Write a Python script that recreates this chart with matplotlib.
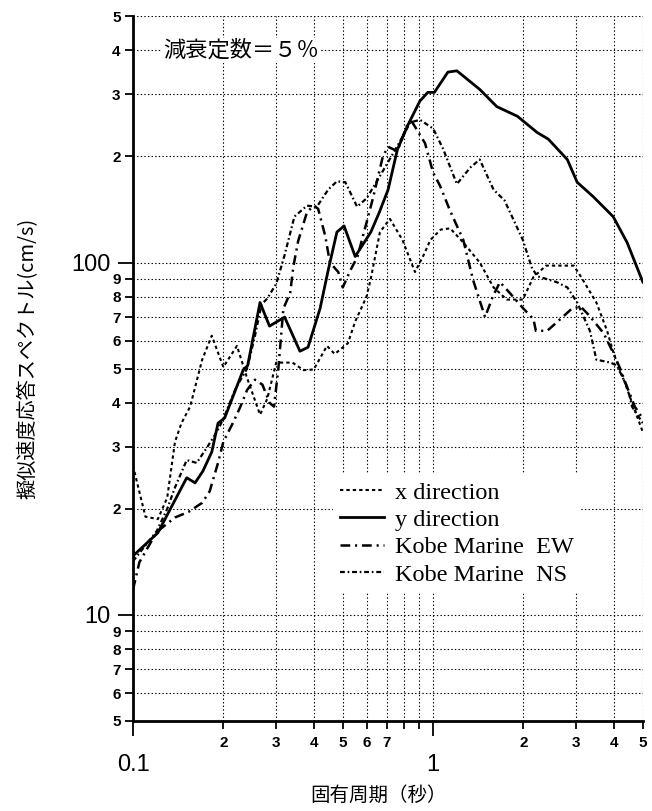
import matplotlib
matplotlib.use("Agg")
import matplotlib.pyplot as plt

plt.rcParams['lines.scale_dashes'] = False

# period (s) / pseudo velocity response (cm/s)
x_dir_T = [0.1, 0.11, 0.121, 0.13, 0.138, 0.145, 0.155, 0.17, 0.183, 0.2, 0.222, 0.24, 0.265,
           0.28, 0.30, 0.34, 0.37, 0.40, 0.443, 0.47, 0.52, 0.55, 0.60, 0.62, 0.665, 0.718, 0.79,
           0.87, 0.93, 0.98, 1.06, 1.14, 1.26, 1.43, 1.59, 1.76, 1.99, 2.16, 2.38, 2.94, 3.1,
           3.5, 3.8, 4.0, 4.3, 4.6, 5.0]
x_dir_v = [26.5, 19, 18.7, 21.5, 31, 35, 39, 53, 62, 50.5, 58, 47, 37,
           41, 52, 52, 49.5, 49.7, 58, 55, 59, 68, 80, 90, 122, 133, 116,
           94, 105, 116, 124, 125, 114, 100, 85, 78.5, 78.5, 91, 98, 98, 91.5,
           77, 64, 55, 47, 40, 33]

y_dir_T = [0.1, 0.121, 0.151, 0.161, 0.171, 0.183, 0.192, 0.202, 0.233, 0.241, 0.265, 0.285,
           0.32, 0.36, 0.383, 0.42, 0.447, 0.478, 0.505, 0.55, 0.62, 0.66, 0.708, 0.76, 0.825,
           0.903, 0.96, 1.01, 1.12, 1.2, 1.43, 1.63, 1.91, 2.22, 2.42, 2.8, 3.02, 3.41, 3.98,
           4.43, 5.0]
y_dir_v = [14.7, 17.1, 24.5, 23.7, 25.6, 29, 35, 36.2, 49.6, 51, 77, 66,
           70, 56, 57.5, 74, 95, 122, 127, 104, 122, 138, 161, 209, 246,
           287, 304, 304, 347, 350, 310, 277, 260, 234, 224, 196, 169, 154, 135,
           114, 88]

ew_T = [0.1, 0.105, 0.12, 0.138, 0.153, 0.17, 0.18, 0.192, 0.2, 0.215, 0.228, 0.24, 0.255,
        0.27, 0.285, 0.295, 0.305, 0.317, 0.334, 0.342, 0.355, 0.38, 0.40, 0.414, 0.437,
        0.453, 0.483, 0.50, 0.53, 0.56, 0.63, 0.68, 0.708, 0.76, 0.82, 0.85, 0.94, 1.0,
        1.055, 1.14, 1.26, 1.36, 1.49, 1.58, 1.67, 1.8, 2.0, 2.16, 2.2, 2.4, 2.6, 2.9, 3.1,
        3.3, 3.7, 4.0, 4.2, 4.4, 4.7, 5.0]
ew_v = [11.8, 14.1, 17.2, 18.9, 19.6, 20.8, 22.4, 27, 31, 35, 39, 43.5, 46.5,
        45, 40, 39, 50, 74, 82, 97, 115, 139, 145, 142, 119,
        100, 94, 85, 95, 104, 152, 200, 213, 207, 246, 251, 218, 180,
        165, 140, 116, 89, 70, 80, 88, 82, 74, 69, 64, 64, 68, 74, 75,
        71, 63, 55, 50, 45, 39, 36]

ns_T = [0.1, 0.12, 0.13, 0.138, 0.151, 0.163, 0.177, 0.19, 0.2, 0.22, 0.24, 0.255, 0.268,
        0.28, 0.30, 0.32, 0.345, 0.38, 0.41, 0.447, 0.478, 0.51, 0.558, 0.6, 0.665, 0.76,
        0.84, 0.905, 1.0, 1.08, 1.2, 1.33, 1.43, 1.59, 1.73, 1.99, 2.13, 2.22, 2.58, 2.8,
        3.02, 3.33, 3.5, 3.9, 4.1, 4.45, 4.6, 5.0]
ns_v = [14.2, 17.3, 20, 23, 27.5, 27, 30, 33, 36, 44, 50, 62, 76,
        79, 87, 105, 135, 145, 144, 161, 170, 169, 144, 152, 176, 214,
        250, 254, 240, 210, 167, 186, 196, 161, 150, 116, 97, 91.5, 88, 85,
        77, 64, 53, 52, 51, 44, 39, 35]

y_major = [10, 100]
y_major_lbl = ['10', '100']
y_minor = [5, 6, 7, 8, 9, 20, 30, 40, 50, 60, 70, 80, 90, 200, 300, 400, 500]
y_minor_lbl = ['5', '6', '7', '8', '9', '2', '3', '4', '5', '6', '7', '8', '9', '2', '3', '4', '5']
x_major = [0.1, 1]
x_major_lbl = ['0.1', '1']
x_minor = [0.2, 0.3, 0.4, 0.5, 0.6, 0.7, 0.8, 0.9, 2, 3, 4, 5]
x_minor_lbl = ['2', '3', '4', '5', '6', '7', '', '', '2', '3', '4', '5']

jp = ['Noto Sans CJK JP', 'DejaVu Sans']
num = 'Liberation Sans'

fig = plt.figure(figsize=(6.52, 8.11), dpi=100)
ax = fig.add_axes([0.204, 0.111, 0.782, 0.869])

ax.plot(x_dir_T, x_dir_v, color='k', lw=1.5, ls=(0, (2.4, 2.2)), label='x direction')
ax.plot(y_dir_T, y_dir_v, color='k', lw=2.0, ls='-', label='y direction')
ax.plot(ew_T, ew_v, color='k', lw=1.8, ls=(0, (7, 3.5, 1.5, 3.5)), label='Kobe Marine  EW')
ax.plot(ns_T, ns_v, color='k', lw=1.6, ls=(0, (3.5, 2, 1.2, 2)), label='Kobe Marine  NS')

ax.set_xscale('log')
ax.set_yscale('log')
ax.set_xlim(0.1, 5)
ax.set_ylim(5, 500)

ax.set_xticks(x_major, labels=x_major_lbl)
ax.set_xticks(x_minor, labels=x_minor_lbl, minor=True)
ax.set_yticks(y_major, labels=y_major_lbl)
ax.set_yticks(y_minor, labels=y_minor_lbl, minor=True)

ax.tick_params(which='major', direction='out', length=11, width=1.3, color='k')
ax.tick_params(which='minor', direction='out', length=6, width=1.3, color='k')
ax.tick_params(axis='x', which='major', pad=13, labelsize=17)
ax.tick_params(axis='x', which='minor', pad=5, labelsize=11)
ax.tick_params(axis='y', which='major', pad=5, labelsize=17)
ax.tick_params(axis='y', which='minor', pad=3, labelsize=11)
for lbl in ax.get_xticklabels() + ax.get_yticklabels():
    lbl.set_family(num)
for lbl in ax.get_xticklabels(minor=True) + ax.get_yticklabels(minor=True):
    lbl.set_family(num)
    lbl.set_fontweight('bold')

ax.grid(True, which='both', color='k', lw=0.8, ls=(0, (1, 1.6)))
ax.set_axisbelow(True)
for s in ('top', 'right'):
    ax.spines[s].set_visible(False)
for s in ('left', 'bottom'):
    ax.spines[s].set_linewidth(2)

ax.text(0.126, 400, '減衰定数＝５％', family=jp, fontsize=16, va='center', ha='left',
        bbox=dict(facecolor='white', edgecolor='none', pad=1))

leg = ax.legend(loc='upper left', bbox_to_anchor=(0.392, 0.35), frameon=True,
                prop={'family': 'Liberation Serif', 'size': 17.5},
                handlelength=1.8, handletextpad=0.45, labelspacing=0.22,
                borderpad=0.3, borderaxespad=0, fancybox=False)
leg.get_frame().set_facecolor('white')
leg.get_frame().set_edgecolor('none')
leg.get_frame().set_alpha(1)

fig.text(28 / 652, 1 - 358 / 811, '擬似速度応答スペクトル(cm/s)', family=jp, fontsize=14.5,
         rotation=90, ha='center', va='center')
fig.text(378 / 652, 1 - 795 / 811, '固有周期（秒）', family=jp, fontsize=14,
         ha='center', va='center')

fig.savefig('out.png', dpi=100)
